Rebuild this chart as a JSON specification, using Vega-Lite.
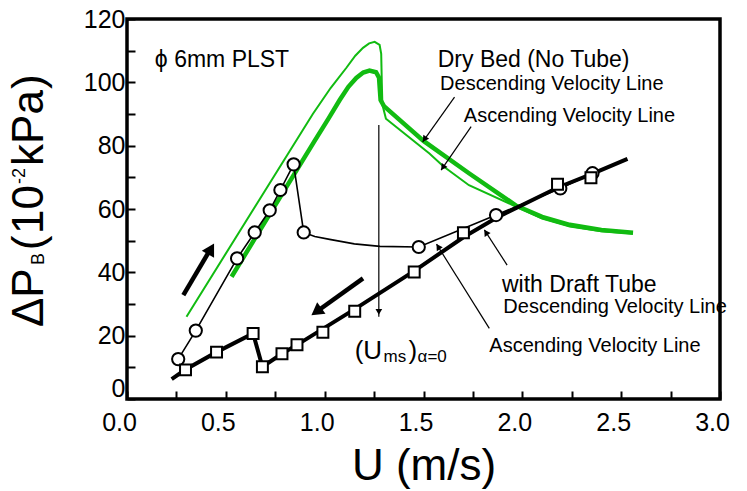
{
  "$schema": "https://vega.github.io/schema/vega-lite/v6.json",
  "width": 593,
  "height": 380,
  "autosize": {"type": "none"},
  "padding": {"left": 127, "top": 19, "right": 27, "bottom": 92},
  "background": "white",
  "config": {"view": {"stroke": "black", "strokeWidth": 3.5}, "font": "Liberation Sans"},
  "datasets": {
    "greenAsc": [
      {"u": 0.301, "p": 26.0}, {"u": 0.94, "p": 90.0}, {"u": 1.03, "p": 98.2}, {"u": 1.11, "p": 104.6},
      {"u": 1.155, "p": 108.4}, {"u": 1.194, "p": 110.9}, {"u": 1.225, "p": 112.3},
      {"u": 1.253, "p": 112.8}, {"u": 1.278, "p": 111.8}, {"u": 1.286, "p": 109.0}, {"u": 1.289, "p": 100.0},
      {"u": 1.292, "p": 93.0}, {"u": 1.31, "p": 88.5}, {"u": 1.53, "p": 77.5}, {"u": 1.6, "p": 73.5},
      {"u": 1.73, "p": 67.5}, {"u": 1.97, "p": 60.7}, {"u": 2.1, "p": 57.0}, {"u": 2.24, "p": 54.5},
      {"u": 2.4, "p": 53.0}, {"u": 2.56, "p": 52.3}
    ],
    "greenDesc": [
      {"u": 0.529, "p": 38.6}, {"u": 0.75, "p": 61.2}, {"u": 0.95, "p": 81.6}, {"u": 1.02, "p": 88.6},
      {"u": 1.076, "p": 94.4}, {"u": 1.12, "p": 98.6}, {"u": 1.16, "p": 101.4}, {"u": 1.195, "p": 103.1},
      {"u": 1.227, "p": 103.7}, {"u": 1.26, "p": 103.2}, {"u": 1.275, "p": 101.5},
      {"u": 1.28, "p": 97.0}, {"u": 1.283, "p": 94.4}, {"u": 1.3, "p": 92.5}, {"u": 1.5, "p": 81.5},
      {"u": 1.73, "p": 71.3}, {"u": 1.97, "p": 61.0}, {"u": 2.1, "p": 57.5}, {"u": 2.24, "p": 55.0},
      {"u": 2.4, "p": 53.4}, {"u": 2.56, "p": 52.5}
    ],
    "tubeDescLine": [
      {"u": 0.226, "p": 6.3}, {"u": 0.296, "p": 9.3}, {"u": 0.453, "p": 14.8}, {"u": 0.638, "p": 20.7},
      {"u": 0.685, "p": 10.2}, {"u": 0.784, "p": 14.3}, {"u": 0.86, "p": 17.1}, {"u": 1.15, "p": 28.3},
      {"u": 1.45, "p": 40.3}, {"u": 1.7, "p": 51.0}, {"u": 1.88, "p": 57.6}, {"u": 2.18, "p": 66.8},
      {"u": 2.35, "p": 71.0}, {"u": 2.532, "p": 75.8}
    ],
    "tubeDescPts": [
      {"u": 0.296, "p": 9.2}, {"u": 0.453, "p": 14.8}, {"u": 0.638, "p": 20.7}, {"u": 0.685, "p": 10.2},
      {"u": 0.784, "p": 14.3}, {"u": 0.86, "p": 17.1}, {"u": 0.991, "p": 21.1}, {"u": 1.152, "p": 27.7},
      {"u": 1.453, "p": 40.1}, {"u": 1.702, "p": 52.5}, {"u": 2.178, "p": 67.8}, {"u": 2.347, "p": 69.9}
    ],
    "tubeAscLine": [
      {"u": 0.259, "p": 12.6}, {"u": 0.348, "p": 21.6}, {"u": 0.557, "p": 44.4}, {"u": 0.646, "p": 52.6},
      {"u": 0.722, "p": 59.6}, {"u": 0.776, "p": 66.0}, {"u": 0.843, "p": 74.1}, {"u": 0.894, "p": 52.6},
      {"u": 0.95, "p": 51.3}, {"u": 1.025, "p": 50.4}, {"u": 1.15, "p": 49.0}, {"u": 1.28, "p": 48.2},
      {"u": 1.476, "p": 48.0}, {"u": 1.867, "p": 58.1}, {"u": 2.192, "p": 66.5}, {"u": 2.355, "p": 71.3}
    ],
    "tubeAscPts": [
      {"u": 0.259, "p": 12.6}, {"u": 0.348, "p": 21.6}, {"u": 0.557, "p": 44.4}, {"u": 0.646, "p": 52.6},
      {"u": 0.722, "p": 59.6}, {"u": 0.776, "p": 66.0}, {"u": 0.843, "p": 74.1}, {"u": 0.894, "p": 52.6},
      {"u": 1.476, "p": 48.0}, {"u": 1.867, "p": 58.1}, {"u": 2.192, "p": 66.5}, {"u": 2.355, "p": 71.3}
    ],
    "thinArrows": [
      {"u": 1.657, "p": 95.3, "u2": 1.496, "p2": 81.2},
      {"u": 1.741, "p": 86.0, "u2": 1.589, "p2": 72.3},
      {"u": 1.923, "p": 42.3, "u2": 1.808, "p2": 53.4},
      {"u": 1.833, "p": 22.3, "u2": 1.566, "p2": 48.9},
      {"u": 1.274, "p": 86.5, "u2": 1.274, "p2": 26.0}
    ],
    "thickArrows": [
      {"u": 0.285, "p": 32.8, "u2": 0.425, "p2": 47.6},
      {"u": 1.194, "p": 38.1, "u2": 0.955, "p2": 27.4}
    ],
    "labelsBig": [
      {"u": 0.141, "p": 104.8, "t": "ϕ 6mm PLST"},
      {"u": 1.572, "p": 104.9, "t": "Dry Bed (No Tube)"},
      {"u": 1.897, "p": 33.9, "t": "with Draft Tube"}
    ],
    "labelsMid": [
      {"u": 1.584, "p": 97.6, "t": "Descending Velocity Line"},
      {"u": 1.704, "p": 87.6, "t": "Ascending Velocity Line"},
      {"u": 1.904, "p": 27.3, "t": "Descending Velocity Line"},
      {"u": 1.833, "p": 14.9, "t": "Ascending Velocity Line"}
    ],
    "umsBig": [
      {"u": 1.152, "p": 12.5, "t": "(U"},
      {"u": 1.424, "p": 12.5, "t": ")"}
    ],
    "umsSmall": [
      {"u": 1.298, "p": 11.7, "t": "ms"},
      {"u": 1.47, "p": 11.7, "t": "α=0"}
    ],
    "yTitleBig": [
      {"u": -0.424, "p": 22.7, "t": "ΔP"},
      {"u": -0.424, "p": 47.0, "t": "("},
      {"u": -0.424, "p": 52.1, "t": "10"},
      {"u": -0.424, "p": 73.6, "t": "kPa"},
      {"u": -0.424, "p": 97.9, "t": ")"}
    ],
    "yTitleSmall": [
      {"u": -0.418, "p": 42.3, "t": "B"},
      {"u": -0.515, "p": 67.9, "t": "-2"}
    ]
  },
  "encoding": {
    "x": {
      "field": "u", "type": "quantitative",
      "scale": {"domain": [0, 3], "nice": false, "zero": false},
      "axis": {
        "title": "U (m/s)",
        "values": [0, 0.25, 0.5, 0.75, 1, 1.25, 1.5, 1.75, 2, 2.25, 2.5, 2.75, 3],
        "labelExpr": "datum.value % 0.5 == 0 ? format(datum.value, '.1f') : ''",
        "domain": false, "grid": false,
        "tickSize": -8, "tickWidth": 2, "tickColor": "black",
        "labelFont": "Liberation Sans", "labelFontSize": 25, "labelColor": "black",
        "labelPadding": 19, "labelOffset": -8, "labelFlush": false, "labelOverlap": false,
        "titleFont": "Liberation Sans", "titleFontSize": 44, "titleFontWeight": "normal",
        "titleColor": "black", "titlePadding": 9
      }
    },
    "y": {
      "field": "p", "type": "quantitative",
      "scale": {"domain": [0, 120], "nice": false, "zero": false},
      "axis": {
        "title": null,
        "values": [0, 10, 20, 30, 40, 50, 60, 70, 80, 90, 100, 110, 120],
        "labelExpr": "datum.value % 20 == 0 ? datum.label : ''",
        "domain": false, "grid": false,
        "tickSize": -8, "tickWidth": 2, "tickColor": "black",
        "labelFont": "Liberation Sans", "labelFontSize": 25, "labelColor": "black",
        "labelPadding": 10, "labelFlush": false, "labelOverlap": false,
        "labelOffset": {"condition": {"test": "datum.value == 0", "value": -11}, "value": 0}
      }
    }
  },
  "layer": [
    {"data": {"name": "greenAsc"}, "mark": {"type": "line", "color": "#11bb11", "strokeWidth": 2}},
    {"data": {"name": "greenDesc"}, "mark": {"type": "line", "color": "#11bb11", "strokeWidth": 4.5}},
    {"data": {"name": "tubeDescLine"}, "mark": {"type": "line", "color": "black", "strokeWidth": 4}},
    {"data": {"name": "tubeAscLine"}, "mark": {"type": "line", "color": "black", "strokeWidth": 1.6}},
    {"data": {"name": "tubeAscPts"}, "mark": {"type": "point", "shape": "circle", "filled": true, "fill": "white", "stroke": "black", "strokeWidth": 2, "size": 150, "opacity": 1}},
    {"data": {"name": "tubeDescPts"}, "mark": {"type": "point", "shape": "square", "filled": true, "fill": "white", "stroke": "black", "strokeWidth": 2, "size": 120, "opacity": 1}},
    {"data": {"name": "thinArrows"}, "mark": {"type": "rule", "color": "black", "strokeWidth": 1.2},
     "encoding": {"x2": {"field": "u2"}, "y2": {"field": "p2"}}},
    {"data": {"values": [{"u": 1.505, "p": 82.0}, {"u": 1.598, "p": 73.1}]},
     "mark": {"type": "point", "shape": "triangle-up", "filled": true, "color": "black", "opacity": 1, "size": 50, "angle": 215}},
    {"data": {"values": [{"u": 1.816, "p": 52.6}, {"u": 1.574, "p": 48.1}]},
     "mark": {"type": "point", "shape": "triangle-up", "filled": true, "color": "black", "opacity": 1, "size": 50, "angle": 327}},
    {"data": {"values": [{"u": 1.274, "p": 27.5}]},
     "mark": {"type": "point", "shape": "triangle-up", "filled": true, "color": "black", "opacity": 1, "size": 45, "angle": 180}},
    {"data": {"name": "thickArrows"}, "mark": {"type": "rule", "color": "black", "strokeWidth": 4.5},
     "encoding": {"x2": {"field": "u2"}, "y2": {"field": "p2"}}},
    {"data": {"values": [{"u": 0.425, "p": 47.4}]},
     "mark": {"type": "point", "shape": "triangle-up", "filled": true, "color": "black", "opacity": 1, "size": 200, "angle": 30}},
    {"data": {"values": [{"u": 0.958, "p": 27.6}]},
     "mark": {"type": "point", "shape": "triangle-up", "filled": true, "color": "black", "opacity": 1, "size": 200, "angle": 234}},
    {"data": {"name": "labelsBig"}, "mark": {"type": "text", "font": "Liberation Sans", "fontSize": 23, "align": "left", "baseline": "alphabetic", "color": "black"},
     "encoding": {"text": {"field": "t"}}},
    {"data": {"name": "labelsMid"}, "mark": {"type": "text", "font": "Liberation Sans", "fontSize": 20, "align": "left", "baseline": "alphabetic", "color": "black"},
     "encoding": {"text": {"field": "t"}}},
    {"data": {"name": "umsBig"}, "mark": {"type": "text", "font": "Liberation Sans", "fontSize": 26, "align": "left", "baseline": "alphabetic", "color": "black"},
     "encoding": {"text": {"field": "t"}}},
    {"data": {"name": "umsSmall"}, "mark": {"type": "text", "font": "Liberation Sans", "fontSize": 17, "align": "left", "baseline": "alphabetic", "color": "black"},
     "encoding": {"text": {"field": "t"}}},
    {"data": {"name": "yTitleBig"}, "mark": {"type": "text", "font": "Liberation Sans", "fontSize": 44, "align": "left", "baseline": "alphabetic", "angle": 270, "color": "black"},
     "encoding": {"text": {"field": "t"}}},
    {"data": {"name": "yTitleSmall"}, "mark": {"type": "text", "font": "Liberation Sans", "fontSize": 18, "align": "left", "baseline": "alphabetic", "angle": 270, "color": "black"},
     "encoding": {"text": {"field": "t"}}}
  ]
}
